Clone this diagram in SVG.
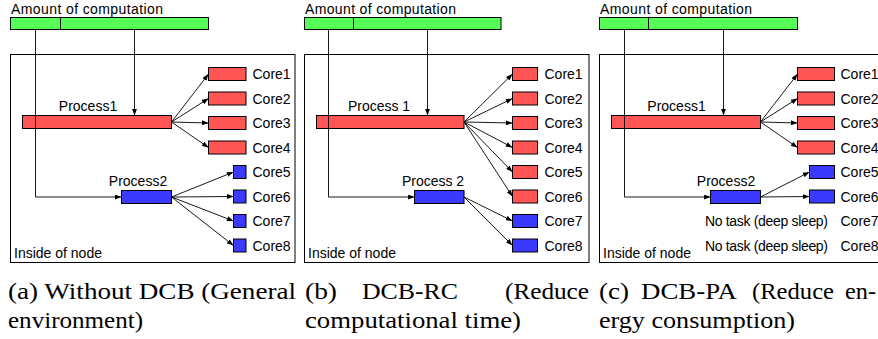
<svg xmlns="http://www.w3.org/2000/svg" width="878" height="339" viewBox="0 0 878 339">
<style>
.t{font-family:"Liberation Sans",Arial,sans-serif;font-size:14px;fill:#000}
.m{text-anchor:middle}
.e{text-anchor:end}
.cap{font-family:"Liberation Serif","Times New Roman",serif;font-size:24px;fill:#000}
.g{fill:#55ff55;stroke:#000;stroke-width:1}
.r{fill:#ff5555;stroke:#000;stroke-width:1}
.b{fill:#3a3aff;stroke:#000;stroke-width:1}
.box{fill:#fff;stroke:#000;stroke-width:1}
.ln{fill:none;stroke:#000;stroke-width:1}
.c{fill:none;stroke:#000;stroke-width:0.9;marker-end:url(#ah)}
</style>
<defs>
<marker id="ah" viewBox="0 0 8 6" refX="8" refY="3" markerWidth="7" markerHeight="5" orient="auto" markerUnits="userSpaceOnUse">
<path d="M0,0 L8,3 L0,6 z" fill="#000"/>
</marker>
</defs>
<rect width="878" height="339" fill="#fff"/>

<!-- Panel a -->
<g id="a-node-box"><rect class="box" x="10.5" y="54.5" width="284.5" height="208"/><text class="t" x="14" y="258">Inside of node</text></g>
<g id="a-amount"><text class="t" x="11" y="14" textLength="152">Amount of computation</text><rect class="g" x="10.5" y="17.5" width="198" height="12"/><line class="ln" x1="60.5" y1="17.5" x2="60.5" y2="29.5"/></g>
<g id="a-process1"><rect class="r" x="22.5" y="115.5" width="149" height="13"/><text class="t m" x="88" y="110.5">Process1</text></g>
<g id="a-process2"><rect class="b" x="121.5" y="190.5" width="50" height="13"/><text class="t m" x="138" y="186">Process2</text></g>
<g id="a-core1"><rect class="r" x="208.5" y="67.5" width="37.5" height="13"/><text class="t" x="252.5" y="79">Core1</text></g>
<g id="a-core2"><rect class="r" x="208.5" y="92" width="37.5" height="13"/><text class="t" x="252.5" y="103.5">Core2</text></g>
<g id="a-core3"><rect class="r" x="208.5" y="116.5" width="37.5" height="13"/><text class="t" x="252.5" y="128">Core3</text></g>
<g id="a-core4"><rect class="r" x="208.5" y="141" width="37.5" height="13"/><text class="t" x="252.5" y="152.5">Core4</text></g>
<g id="a-core5"><rect class="b" x="233.5" y="165.5" width="12.5" height="13"/><text class="t" x="252.5" y="177">Core5</text></g>
<g id="a-core6"><rect class="b" x="233.5" y="190" width="12.5" height="13"/><text class="t" x="252.5" y="201.5">Core6</text></g>
<g id="a-core7"><rect class="b" x="233.5" y="214.5" width="12.5" height="13"/><text class="t" x="252.5" y="226">Core7</text></g>
<g id="a-core8"><rect class="b" x="233.5" y="239" width="12.5" height="13"/><text class="t" x="252.5" y="250.5">Core8</text></g>

<!-- Panel b -->
<g id="b-node-box"><rect class="box" x="304.5" y="54.5" width="284.5" height="208"/><text class="t" x="308" y="258">Inside of node</text></g>
<g id="b-amount"><text class="t" x="305" y="14" textLength="151">Amount of computation</text><rect class="g" x="304.5" y="17.5" width="196.5" height="12"/><line class="ln" x1="353.5" y1="17.5" x2="353.5" y2="29.5"/></g>
<g id="b-process1"><rect class="r" x="316.5" y="115.5" width="147.5" height="13"/><text class="t m" x="379" y="110.5">Process 1</text></g>
<g id="b-process2"><rect class="b" x="414.5" y="190.5" width="49.5" height="13"/><text class="t m" x="433" y="186">Process 2</text></g>
<g id="b-core1"><rect class="r" x="512.5" y="67.5" width="25" height="13"/><text class="t" x="544.5" y="79">Core1</text></g>
<g id="b-core2"><rect class="r" x="512.5" y="92" width="25" height="13"/><text class="t" x="544.5" y="103.5">Core2</text></g>
<g id="b-core3"><rect class="r" x="512.5" y="116.5" width="25" height="13"/><text class="t" x="544.5" y="128">Core3</text></g>
<g id="b-core4"><rect class="r" x="512.5" y="141" width="25" height="13"/><text class="t" x="544.5" y="152.5">Core4</text></g>
<g id="b-core5"><rect class="r" x="512.5" y="165.5" width="25" height="13"/><text class="t" x="544.5" y="177">Core5</text></g>
<g id="b-core6"><rect class="r" x="512.5" y="190" width="25" height="13"/><text class="t" x="544.5" y="201.5">Core6</text></g>
<g id="b-core7"><rect class="b" x="512.5" y="214.5" width="25" height="13"/><text class="t" x="544.5" y="226">Core7</text></g>
<g id="b-core8"><rect class="b" x="512.5" y="239" width="25" height="13"/><text class="t" x="544.5" y="250.5">Core8</text></g>

<!-- Panel c -->
<g id="c-node-box"><rect class="box" x="599.5" y="54.5" width="300" height="208"/><text class="t" x="603" y="258">Inside of node</text></g>
<g id="c-amount"><text class="t" x="600" y="14" textLength="152">Amount of computation</text><rect class="g" x="599.5" y="17.5" width="198" height="12"/><line class="ln" x1="648.5" y1="17.5" x2="648.5" y2="29.5"/></g>
<g id="c-process1"><rect class="r" x="611.5" y="115.5" width="149" height="13"/><text class="t m" x="676.5" y="110.5">Process1</text></g>
<g id="c-process2"><rect class="b" x="710.5" y="190.5" width="50" height="13"/><text class="t m" x="726" y="186">Process2</text></g>
<g id="c-core1"><rect class="r" x="797.5" y="67.5" width="37" height="13"/><text class="t" x="840.5" y="79">Core1</text></g>
<g id="c-core2"><rect class="r" x="797.5" y="92" width="37" height="13"/><text class="t" x="840.5" y="103.5">Core2</text></g>
<g id="c-core3"><rect class="r" x="797.5" y="116.5" width="37" height="13"/><text class="t" x="840.5" y="128">Core3</text></g>
<g id="c-core4"><rect class="r" x="797.5" y="141" width="37" height="13"/><text class="t" x="840.5" y="152.5">Core4</text></g>
<g id="c-core5"><rect class="b" x="809.5" y="165.5" width="25" height="13"/><text class="t" x="840.5" y="177">Core5</text></g>
<g id="c-core6"><rect class="b" x="809.5" y="190" width="25" height="13"/><text class="t" x="840.5" y="201.5">Core6</text></g>
<g id="c-core7"><text class="t e" x="828" y="226" textLength="123">No task (deep sleep)</text><text class="t" x="840.5" y="226">Core7</text></g>
<g id="c-core8"><text class="t e" x="828" y="250.5" textLength="123">No task (deep sleep)</text><text class="t" x="840.5" y="250.5">Core8</text></g>

<g id="connectors">
<path class="c" d="M134.5,29.5 V115.5"/>
<path class="c" d="M35.5,29.5 V197 H121.5"/>
<path class="c" d="M171.5,122 L208.5,74"/>
<path class="c" d="M171.5,122 L208.5,98.5"/>
<path class="c" d="M171.5,122 L208.5,123"/>
<path class="c" d="M171.5,122 L208.5,147.5"/>
<path class="c" d="M171.5,197 L233.5,172"/>
<path class="c" d="M171.5,197 L233.5,196.5"/>
<path class="c" d="M171.5,197 L233.5,221"/>
<path class="c" d="M171.5,197 L233.5,245.5"/>

<path class="c" d="M427.5,29.5 V115.5"/>
<path class="c" d="M328.5,29.5 V197 H414.5"/>
<path class="c" d="M464,122 L512.5,74"/>
<path class="c" d="M464,122 L512.5,98.5"/>
<path class="c" d="M464,122 L512.5,123"/>
<path class="c" d="M464,122 L512.5,147.5"/>
<path class="c" d="M464,122 L512.5,172"/>
<path class="c" d="M464,122 L512.5,196.5"/>
<path class="c" d="M464,197 L512.5,221"/>
<path class="c" d="M464,197 L512.5,245.5"/>

<path class="c" d="M723.5,29.5 V115.5"/>
<path class="c" d="M624.5,29.5 V197 H710.5"/>
<path class="c" d="M760.5,122 L797.5,74"/>
<path class="c" d="M760.5,122 L797.5,98.5"/>
<path class="c" d="M760.5,122 L797.5,123"/>
<path class="c" d="M760.5,122 L797.5,147.5"/>
<path class="c" d="M760.5,197 L809.5,172"/>
<path class="c" d="M760.5,197 L809.5,196.5"/>
</g>

<g id="captions">
<text class="cap" x="8" y="299" textLength="288" lengthAdjust="spacingAndGlyphs">(a) Without DCB (General</text>
<text class="cap" x="8" y="328" textLength="135" lengthAdjust="spacingAndGlyphs">environment)</text>
<text class="cap" x="305" y="299" textLength="32" lengthAdjust="spacingAndGlyphs">(b)</text>
<text class="cap" x="362" y="299" textLength="96" lengthAdjust="spacingAndGlyphs">DCB-RC</text>
<text class="cap" x="505" y="299" textLength="84" lengthAdjust="spacingAndGlyphs">(Reduce</text>
<text class="cap" x="305" y="328" textLength="216" lengthAdjust="spacingAndGlyphs">computational time)</text>
<text class="cap" x="599" y="299" textLength="30" lengthAdjust="spacingAndGlyphs">(c)</text>
<text class="cap" x="641" y="299" textLength="96" lengthAdjust="spacingAndGlyphs">DCB-PA</text>
<text class="cap" x="752" y="299" textLength="82" lengthAdjust="spacingAndGlyphs">(Reduce</text>
<text class="cap" x="845" y="299" textLength="31" lengthAdjust="spacingAndGlyphs">en-</text>
<text class="cap" x="599" y="328" textLength="196" lengthAdjust="spacingAndGlyphs">ergy consumption)</text>
</g>
</svg>
